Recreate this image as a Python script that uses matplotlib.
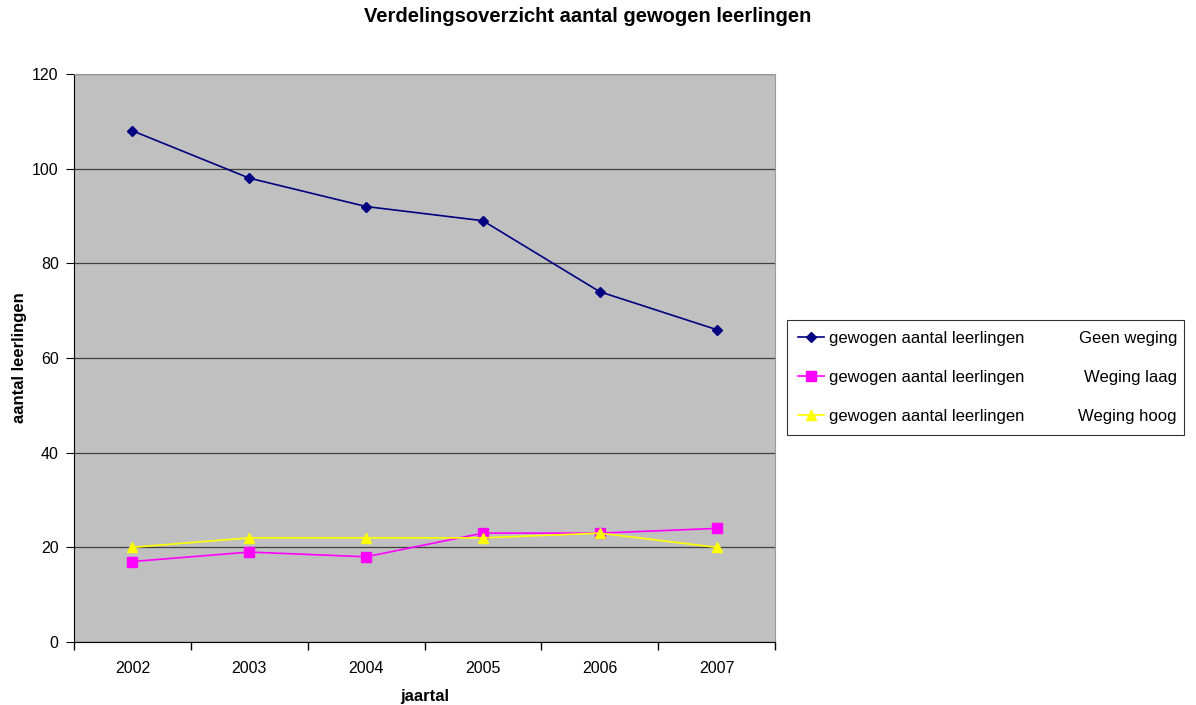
import matplotlib
matplotlib.use("Agg")
import matplotlib.pyplot as plt
import numpy as np

plt.rcParams['font.family'] = ['Liberation Sans', 'DejaVu Sans']

years = ["2002", "2003", "2004", "2005", "2006", "2007"]
geen_weging = [108, 98, 92, 89, 74, 66]
weging_laag = [17, 19, 18, 23, 23, 24]
weging_hoog = [20, 22, 22, 22, 23, 20]
series_names = ["Geen weging", "Weging laag", "Weging hoog"]

fig = plt.figure(figsize=(11.96, 7.05), dpi=100)
ax = fig.add_axes([74/1196, 63/705, 701/1196, 568/705])
ax.set_facecolor("#c0c0c0")

x = np.arange(len(years))
l1, = ax.plot(x, geen_weging, color="#000080", marker="D", markersize=5.5, lw=1.2)
l2, = ax.plot(x, weging_laag, color="#ff00ff", marker="s", markersize=6.5, lw=1.2)
l3, = ax.plot(x, weging_hoog, color="#ffff00", marker="^", markersize=7, lw=1.2)

ax.set_xlim(-0.5, len(years) - 0.5)
ax.set_ylim(0, 120)
ax.set_yticks(np.arange(0, 121, 20))
ax.set_xticks(x)
ax.set_xticklabels(years)
ax.set_xticks(np.arange(-0.5, len(years), 1), minor=True)
ax.tick_params(axis="x", which="major", length=0, pad=14, labelsize=11.5)
ax.tick_params(axis="x", which="minor", length=6, direction="out", width=1)
ax.tick_params(axis="y", length=6, direction="out", labelsize=11.5, pad=5)
ax.yaxis.grid(True, color="#404040", lw=0.9)
ax.set_axisbelow(True)
for s in ["top", "right"]:
    ax.spines[s].set_color("#9a9a9a")
    ax.spines[s].set_linewidth(0.8)

ax.set_xlabel("jaartal", fontsize=12, fontweight="bold", labelpad=9)
ax.set_ylabel("aantal leerlingen", fontsize=12, fontweight="bold", labelpad=4)
fig.text(588/1196, 1 - 17/705, "Verdelingsoverzicht aantal gewogen leerlingen",
         ha="center", va="center", fontsize=14.5, fontweight="bold")

leg = fig.legend([l1, l2, l3], ["gewogen aantal leerlingen"] * 3,
                 loc="upper left", mode="expand",
                 bbox_to_anchor=(787/1196, 1 - 436/705, (1184 - 787)/1196, 116/705),
                 frameon=True, fancybox=False, edgecolor="black", fontsize=12,
                 handlelength=1.6, handletextpad=0.3, labelspacing=1.45,
                 borderpad=0.65, borderaxespad=0)
leg.get_frame().set_linewidth(0.8)
fig.canvas.draw()
inv = fig.transFigure.inverted()
for txt, name in zip(leg.get_texts(), series_names):
    bb = txt.get_window_extent()
    yc = (bb.y0 + bb.y1) / 2
    fx, fy = inv.transform((1177, yc))
    fig.text(fx, fy, name, ha="right", va="center", fontsize=12, zorder=10)

fig.savefig("out.png", dpi=100)
